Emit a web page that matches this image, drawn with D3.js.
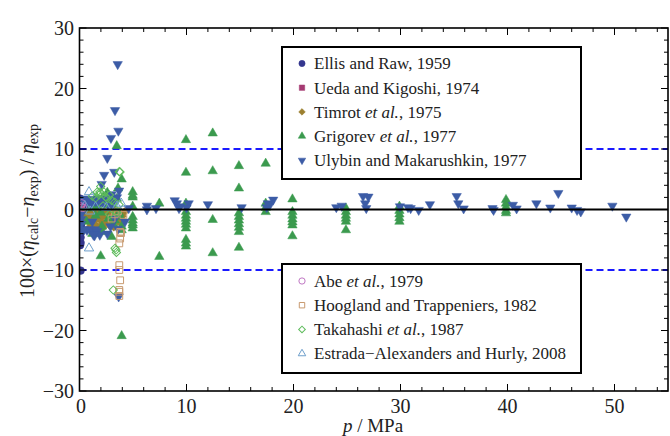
<!DOCTYPE html>
<html>
<head>
<meta charset="utf-8">
<script src="https://cdn.jsdelivr.net/npm/d3@7/dist/d3.min.js"></script>
<style>
  html, body { margin: 0; padding: 0; background: #fff; }
  svg { display: block; }
</style>
</head>
<body>
<svg id="chart" width="670" height="436" font-family="'Liberation Serif', 'Times New Roman', 'Liberation Sans', Arial, sans-serif"></svg>
<script>
// ---- data: [pressure / MPa, deviation / %] ----
const ellis = [[0.05,1.8],[0.1,1.2],[0.05,0.7],[0.15,0.2],[0.1,-0.3],[0.05,-0.8],[0.2,-1.2],[0.1,-1.6],[0.05,-2.0],[0.15,-2.4],[0.1,-2.8],[0.05,-3.2],[0.1,-3.6],[0.05,-4.0],[0.1,-5.5],[0.05,-5.9],[0.1,-10.1],[0.3,0.8],[0.4,0.3],[0.1,-4.6]];
const ueda = [[0.05,1.2],[0.1,0.8],[0.15,1.6],[0.05,0.3]];
const timrot = [[0.6,-0.5],[0.8,-0.9],[1.0,-0.4],[1.2,-1.2],[1.4,-0.6],[1.6,-1.5],[1.8,-0.8],[2.0,-1.9],[2.2,-1.1],[2.4,-2.3],[2.6,-1.4],[2.8,-2.6],[3.0,-1.7],[3.2,-2.9],[3.4,-1.0],[3.6,-2.0],[3.8,-0.5],[0.7,-1.6],[0.9,-2.1],[1.1,-0.2],[1.3,-1.9],[1.5,-2.5],[1.7,-0.3],[1.9,-2.8],[2.1,-0.5],[2.3,-0.3],[2.5,-0.7],[2.7,-0.4],[2.9,-0.9],[3.1,-0.4],[3.3,-0.6],[3.5,-1.3],[1.0,-2.8],[0.5,-1.0],[4.0,-1.1],[4.2,-0.4],[3.9,-2.3],[2.2,-3.0],[1.6,-3.2],[0.4,-0.3]];
const grigorev = [[0.67,-2.0],[1.0,1.0],[1.3,0.5],[1.5,-1.0],[1.8,1.5],[2.0,-0.5],[2.1,-2.8],[2.1,-3.7],[1.98,-7.7],[2.2,2.0],[2.5,0.8],[2.7,-1.5],[2.9,1.2],[3.0,-4.5],[3.2,0.3],[3.3,-1.8],[3.48,10.5],[3.5,1.8],[3.7,-0.6],[3.8,-1.2],[3.94,5.0],[3.94,-2.8],[3.94,-3.4],[3.94,-20.9],[3.6,3.5],[3.2,-2.5],[1.2,-4.0],[2.6,2.8],[0.9,0.2],[1.6,0.6],
  [4.97,2.9],[4.97,2.3],[4.97,2.0],[4.97,0.5],[4.97,-1.2],[4.97,-1.8],[4.97,-2.3],[4.97,-2.6],[4.97,-3.1],
  [7.46,1.0],[7.46,-7.8],
  [9.95,11.5],[9.95,6.1],[9.95,1.0],[9.95,-0.4],[9.95,-1.0],[9.95,-1.5],[9.95,-2.0],[9.95,-2.5],[9.95,-3.1],[9.95,-5.0],[9.95,-5.6],[9.95,-6.1],
  [12.45,12.6],[12.45,6.35],[12.45,-1.7],[12.45,-7.2],
  [14.9,7.2],[14.9,3.5],[14.9,-0.6],[14.9,-1.2],[14.9,-1.8],[14.9,-2.4],[14.9,-3.0],[14.9,-3.7],[14.9,-6.3],
  [17.4,7.6],[17.4,1.0],[17.4,0.3],[17.4,-0.4],
  [19.9,1.7],[19.9,-0.4],[19.9,-1.0],[19.9,-1.6],[19.9,-2.1],[19.9,-2.6],[19.9,-4.4],
  [24.9,0.2],[24.9,-0.4],[24.9,-1.0],[24.9,-1.5],[24.9,-2.0],[24.9,-3.4],
  [29.9,0.5],[29.9,-0.2],[29.9,-0.8],[29.9,-1.4],[29.9,-2.0],
  [39.86,1.6],[39.86,1.0],[39.86,0.4],[39.86,-0.2],[39.86,-0.6]];
const ulybin = [[3.57,24.0],[3.32,16.4],[3.63,13.0],[2.94,11.8],[2.6,8.5],[2.3,5.7],[3.25,6.2],[2.07,4.2],[3.7,3.1],[3.66,-14.4],[4.25,-2.0],[4.6,0.2],[6.3,0.6],[6.3,0.0],[7.15,0.2],[3.0,2.5],[3.5,2.0],
  [0.3,1.5],[0.5,1.8],[0.7,1.2],[0.9,1.6],[1.1,1.0],[1.3,1.7],[1.5,1.3],[1.7,1.8],[1.9,0.9],[2.1,1.5],[2.3,1.0],[2.5,1.9],[2.7,0.6],[2.9,1.4],[3.1,0.8],[3.3,1.8],
  [0.2,-3.4],[0.45,-3.3],[0.7,-3.4],[0.95,-3.3],[1.2,-3.4],[1.45,-3.3],[1.65,-3.6],[1.2,-2.0],[2.6,-4.0],[3.3,-1.5],[3.6,-3.2],[1.4,-4.3],[0.15,-0.8],[0.15,-1.6],[0.15,-2.4],[1.9,-4.2],[1.3,-4.2],[2.9,-2.8],
  [8.9,1.5],[9.1,1.0],[9.4,0.5],[9.3,0.2],[10.2,1.0],[10.0,0.3],[12.0,0.85],[15.15,0.35],[17.5,0.35],[17.8,0.8],[18.1,1.6],[17.6,1.0],[24.0,0.35],[24.5,0.6],[26.5,2.2],[27.0,2.1],[26.7,1.0],[26.8,0.2],[29.95,0.5],[30.7,0.35],[30.95,0.2],[31.7,-0.1],[32.75,0.85],[35.25,2.2],[35.4,1.0],[35.9,0.15],[38.6,0.2],[38.7,-0.1],[40.5,0.75],[40.85,0.15],[42.7,1.0],[44.0,0.3],[44.75,2.7],[46.0,0.3],[46.5,-0.1],[46.85,-0.35],[49.8,0.6],[51.1,-1.2]];
const abe = [[0.1,0.5],[0.2,1.0],[0.3,0.3]];
const hoogland = [[3.88,-3.9],[3.8,-4.8],[3.72,-5.6],[3.72,-9.2],[3.72,-10.0],[3.8,-11.7],[3.72,-13.3],[3.72,-13.6],[3.72,-14.3],[4.1,-0.9],[3.8,-3.7],[3.3,-0.8],[3.0,-1.5],[3.6,-0.3]];
const takahashi = [[3.72,6.25],[3.79,6.2],[1.9,2.9],[1.66,2.9],[1.98,2.7],[2.29,2.9],[1.82,2.4],[2.45,2.1],[1.98,3.8],[3.41,-6.7],[3.32,-6.4],[3.45,-7.1],[3.16,-13.3],[2.6,1.8],[2.8,2.4],[3.0,1.5],[3.3,1.2],[1.5,1.9],[1.2,2.2],[2.2,0.6],[3.5,-0.5],[2.8,-0.8],[3.7,0.8]];
const estrada = [[0.89,2.9],[0.89,-6.4],[0.5,0.6],[1.5,0.4],[2.5,0.3],[3.5,0.5],[1.0,-0.3],[3.9,1.0]];

const xTicks = [0, 10, 20, 30, 40, 50];
const yTicks = [-30, -20, -10, 0, 10, 20, 30];
const bandLimits = [-10, 10];

// series drawing specs, in drawing order
const series = [
  { name: ["Ellis and Raw, 1959"], data: ellis, shape: "circle", fill: true, color: "#34378f" },
  { name: ["Ueda and Kigoshi, 1974"], data: ueda, shape: "square", fill: true, color: "#a53a72" },
  { name: ["Timrot ", "et al.", ", 1975"], data: timrot, shape: "diamond", fill: true, color: "#9c8030" },
  { name: ["Grigorev ", "et al.", ", 1977"], data: grigorev, shape: "up", fill: true, color: "#3b9a4e" },
  { name: ["Ulybin and Makarushkin, 1977"], data: ulybin, shape: "down", fill: true, color: "#3c5ca6" },
  { name: ["Abe ", "et al.", ", 1979"], data: abe, shape: "circle", fill: false, color: "#c078c4" },
  { name: ["Hoogland and Trappeniers, 1982"], data: hoogland, shape: "square", fill: false, color: "#c89a70" },
  { name: ["Takahashi ", "et al.", ", 1987"], data: takahashi, shape: "diamond", fill: false, color: "#5dbb5a" },
  { name: ["Estrada\u2212Alexanders and Hurly, 2008"], data: estrada, shape: "up", fill: false, color: "#6e9fcb" }
];

const W = 670, H = 436;
const m = { left: 79.5, right: 668, top: 28, bottom: 391 };
const x = d3.scaleLinear().domain([0, 55]).range([m.left, m.right]);
const y = d3.scaleLinear().domain([-30, 30]).range([m.bottom, m.top]);

const svg = d3.select("#chart");
svg.append("rect").attr("width", W).attr("height", H).attr("fill", "#fff");

svg.append("defs").append("clipPath").attr("id", "plotClip")
  .append("rect").attr("x", m.left).attr("y", m.top)
  .attr("width", m.right - m.left).attr("height", m.bottom - m.top);

const symbolOf = (shape, k) => {
  switch (shape) {
    case "circle": return d3.symbol(d3.symbolCircle, 48 * k * k)();
    case "square": return d3.symbol(d3.symbolSquare, 46 * k * k)();
    case "diamond": return d3.symbol(d3.symbolSquare, 34 * k * k)();
    default: return d3.symbol(d3.symbolTriangle, 38 * k * k)();
  }
};
const rotOf = shape => shape === "diamond" ? 45 : (shape === "down" ? 180 : 0);

// dashed ±10 % band
const plot = svg.append("g").attr("clip-path", "url(#plotClip)");
plot.selectAll("line.band").data(bandLimits).join("line")
  .attr("x1", m.left).attr("x2", m.right)
  .attr("y1", d => y(d)).attr("y2", d => y(d))
  .attr("stroke", "#1a1aff").attr("stroke-width", 2)
  .attr("stroke-dasharray", "7,4");

// markers
series.forEach(s => {
  const path = symbolOf(s.shape, 1);
  plot.append("g").selectAll("path").data(s.data).join("path")
    .attr("d", path)
    .attr("transform", d => `translate(${x(d[0])},${y(d[1])}) rotate(${rotOf(s.shape)})`)
    .attr("fill", s.fill ? s.color : "none")
    .attr("stroke", s.color)
    .attr("stroke-width", s.fill ? 0.5 : 1);
});

// zero line
plot.append("line")
  .attr("x1", m.left).attr("x2", m.right)
  .attr("y1", y(0)).attr("y2", y(0))
  .attr("stroke", "#000").attr("stroke-width", 2);

// frame ticks, pointing inwards
const minorX = d3.range(0, 56, 2).filter(v => v % 10 !== 0);
const minorY = d3.range(-30, 31, 2).filter(v => v % 10 !== 0);
const axisG = svg.append("g").attr("stroke", "#000");
const tick = (x1, y1, x2, y2) => axisG.append("line")
  .attr("x1", x1).attr("y1", y1).attr("x2", x2).attr("y2", y2).attr("stroke-width", 1);
xTicks.forEach(v => { tick(x(v), m.bottom, x(v), m.bottom - 7); tick(x(v), m.top, x(v), m.top + 7); });
minorX.forEach(v => { tick(x(v), m.bottom, x(v), m.bottom - 4); tick(x(v), m.top, x(v), m.top + 4); });
yTicks.forEach(v => { tick(m.left, y(v), m.left + 7, y(v)); tick(m.right, y(v), m.right - 7, y(v)); });
minorY.forEach(v => { tick(m.left, y(v), m.left + 4, y(v)); tick(m.right, y(v), m.right - 4, y(v)); });

svg.append("rect")
  .attr("x", m.left).attr("y", m.top)
  .attr("width", m.right - m.left).attr("height", m.bottom - m.top)
  .attr("fill", "none").attr("stroke", "#000").attr("stroke-width", 1.6);

// tick labels
svg.append("g").selectAll("text").data(xTicks).join("text")
  .attr("x", d => x(d) + (d === 0 ? 1.5 : 0)).attr("y", 413)
  .attr("text-anchor", "middle").attr("font-size", 20).attr("fill", "#222")
  .text(d => d);
svg.append("g").selectAll("text").data(yTicks).join("text")
  .attr("x", 74).attr("y", d => y(d) + 7)
  .attr("text-anchor", "end").attr("font-size", 20).attr("fill", "#222")
  .text(d => d < 0 ? "\u2212" + Math.abs(d) : d);

// axis titles
const xt = svg.append("text").attr("x", 373).attr("y", 432)
  .attr("text-anchor", "middle").attr("font-size", 19).attr("fill", "#222");
xt.append("tspan").attr("font-style", "italic").text("p");
xt.append("tspan").text(" / MPa");

const yt = svg.append("text")
  .attr("transform", "translate(34,211) rotate(-90)")
  .attr("text-anchor", "middle").attr("font-size", 20).attr("fill", "#222");
yt.append("tspan").text("100\u00d7(");
yt.append("tspan").attr("font-style", "italic").text("\u03b7");
yt.append("tspan").attr("font-size", 14).attr("dy", 4).text("calc");
yt.append("tspan").attr("dy", -4).text("\u2212");
yt.append("tspan").attr("font-style", "italic").text("\u03b7");
yt.append("tspan").attr("font-size", 14).attr("dy", 4).text("exp");
yt.append("tspan").attr("dy", -4).text(") / ");
yt.append("tspan").attr("font-style", "italic").text("\u03b7");
yt.append("tspan").attr("font-size", 14).attr("dy", 4).text("exp");

// legends
const legendBoxes = [
  { x: 282, y: 47, w: 299, h: 132, items: series.slice(0, 5), y0: 63.5 },
  { x: 282, y: 264, w: 299, h: 109, items: series.slice(5), y0: 281 }
];
legendBoxes.forEach(b => {
  const g = svg.append("g");
  g.append("rect").attr("x", b.x).attr("y", b.y).attr("width", b.w).attr("height", b.h)
    .attr("fill", "#fff").attr("stroke", "#000").attr("stroke-width", 2);
  b.items.forEach((s, i) => {
    const cy = b.y0 + i * 24.2;
    g.append("path").attr("d", symbolOf(s.shape, 0.8))
      .attr("transform", `translate(302,${cy}) rotate(${rotOf(s.shape)})`)
      .attr("fill", s.fill ? s.color : "none")
      .attr("stroke", s.color).attr("stroke-width", s.fill ? 0.5 : 1);
    const t = g.append("text").attr("x", 314).attr("y", cy + 5.8)
      .attr("font-size", 17).attr("fill", "#222");
    s.name.forEach(part => {
      t.append("tspan").attr("font-style", part === "et al." ? "italic" : null).text(part);
    });
  });
});
</script>
</body>
</html>
